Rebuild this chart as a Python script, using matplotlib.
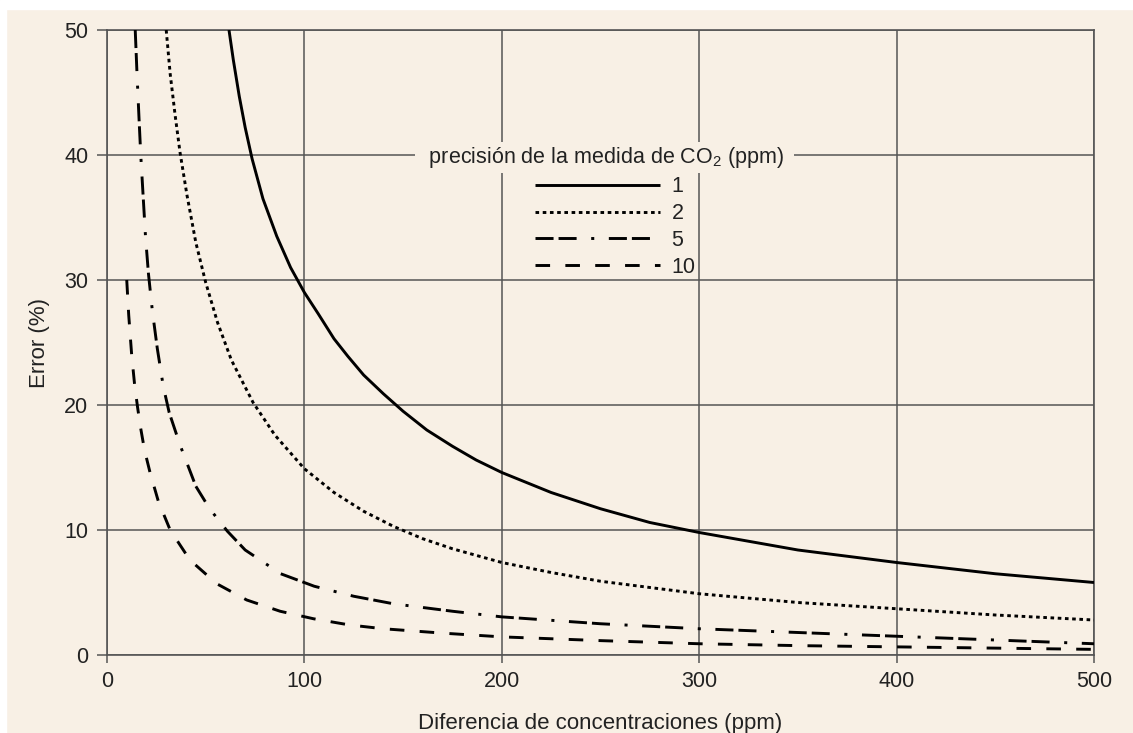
import matplotlib
matplotlib.use('Agg')
import matplotlib.pyplot as plt
from matplotlib.patches import Rectangle

plt.rcParams['font.family'] = ['Liberation Sans', 'DejaVu Sans']
plt.rcParams['lines.scale_dashes'] = False

BG = '#f8f0e5'
GRID = '#555555'
TXT = '#222222'

precisions = ['1', '2', '5', '10']

x_1 = [61.8, 64, 67, 70, 73.5, 79, 86, 93, 100, 107, 115, 122, 130, 140, 150, 162, 175, 187, 200, 225, 250, 275, 300, 350, 400, 450, 500]
y_1 = [50, 47.6, 44.7, 42.2, 39.7, 36.5, 33.5, 31, 29, 27.3, 25.3, 23.9, 22.4, 20.9, 19.5, 18, 16.7, 15.6, 14.6, 13, 11.7, 10.6, 9.8, 8.4, 7.4, 6.5, 5.8]

x_2 = [30, 32, 34.5, 37, 40.5, 45, 50, 56, 63, 74, 85, 100, 115, 130, 145, 160, 175, 200, 225, 250, 300, 350, 400, 450, 500]
y_2 = [50, 46.5, 43.2, 40.2, 36.8, 33, 29.8, 26.6, 23.6, 20.2, 17.6, 14.9, 13, 11.5, 10.3, 9.3, 8.5, 7.4, 6.6, 5.9, 4.9, 4.2, 3.7, 3.2, 2.8]

x_5 = [14.3, 15.2, 16.2, 17.1, 18.2, 19.5, 21, 23, 25.5, 28.5, 31.5, 37, 45, 52, 61, 70, 88, 105, 125, 145, 175, 200, 250, 300, 350, 400, 450, 500]
y_5 = [50, 46.5, 43, 40, 37, 33.5, 30.5, 27.5, 24.5, 21.5, 19.4, 16.8, 13.5, 11.7, 9.9, 8.4, 6.5, 5.5, 4.7, 4.1, 3.5, 3.05, 2.5, 2.1, 1.8, 1.5, 1.2, 0.9]

x_10 = [10, 11, 12.5, 14, 15.5, 17, 19, 21.8, 26, 32, 42, 55.6, 70.8, 87.7, 104.6, 123, 140, 170, 200, 250, 300, 350, 400, 450, 500]
y_10 = [30, 27.2, 24, 21.6, 19.8, 18.2, 16.4, 14.6, 12.3, 10, 7.6, 5.7, 4.4, 3.5, 2.9, 2.4, 2.1, 1.75, 1.45, 1.15, 0.9, 0.75, 0.65, 0.55, 0.45]

x_ticks = [0, 100, 200, 300, 400, 500]
y_ticks = [0, 10, 20, 30, 40, 50]

fig = plt.figure(figsize=(11.33, 7.33), dpi=100, facecolor=BG)
# white strips along the top and left edge of the scan
fig.patches.append(Rectangle((0, 1 - 9 / 733), 1, 9 / 733, transform=fig.transFigure, color='white', zorder=0))
fig.patches.append(Rectangle((0, 0), 6 / 1133, 1, transform=fig.transFigure, color='white', zorder=0))

ax = fig.add_axes([107 / 1133, 78 / 733, 987 / 1133, 625 / 733])
ax.set_facecolor(BG)

l1, = ax.plot(x_1, y_1, color='black', lw=2.1, solid_capstyle='butt', solid_joinstyle='round', zorder=3)
l2, = ax.plot(x_2, y_2, color='black', lw=2.1, dashes=(2.6, 2.6), zorder=3)
l5, = ax.plot(x_5, y_5, color='black', lw=2.1, dashes=(13, 3.6, 13, 10.5, 2.2, 10.5), zorder=3)
l10, = ax.plot(x_10, y_10, color='black', lw=2.1, dashes=(10.5, 11), zorder=3)

ax.set_xlim(0, 500)
ax.set_ylim(0, 50)
ax.set_xticks(x_ticks)
ax.set_yticks(y_ticks)
ax.grid(True, color=GRID, lw=1.1, zorder=1)
ax.set_axisbelow(True)
for s in ax.spines.values():
    s.set_color(GRID)
    s.set_linewidth(1.2)
ax.tick_params(axis='both', width=1.1, color=GRID, labelsize=15.5, labelcolor=TXT)
ax.tick_params(axis='x', length=6, pad=5.5)
ax.tick_params(axis='y', length=7, pad=6.5)

ax.set_ylabel('Error (%)', fontsize=16, color=TXT)
ax.yaxis.set_label_coords(-0.058, 0.5)
ax.set_xlabel('Diferencia de concentraciones (ppm)', fontsize=16, color=TXT)
ax.xaxis.set_label_coords(0.5, -0.092)

ax.text(252, 39.8, '  precisión de la medida de CO$_\\mathregular{2}$ (ppm)  ', fontsize=15.5,
        ha='center', va='center', color=TXT, zorder=4,
        bbox=dict(boxstyle='square,pad=0.12', facecolor=BG, edgecolor='none'))

leg = ax.legend([l1, l2, l5, l10], precisions, loc='upper left', bbox_to_anchor=(0.4336, 0.766),
                frameon=False, fontsize=15.5, handlelength=5.8, handletextpad=0.55,
                labelspacing=0.27, borderpad=0, borderaxespad=0)
for t in leg.get_texts():
    t.set_color(TXT)

fig.savefig('out.png', dpi=100, facecolor=BG)
